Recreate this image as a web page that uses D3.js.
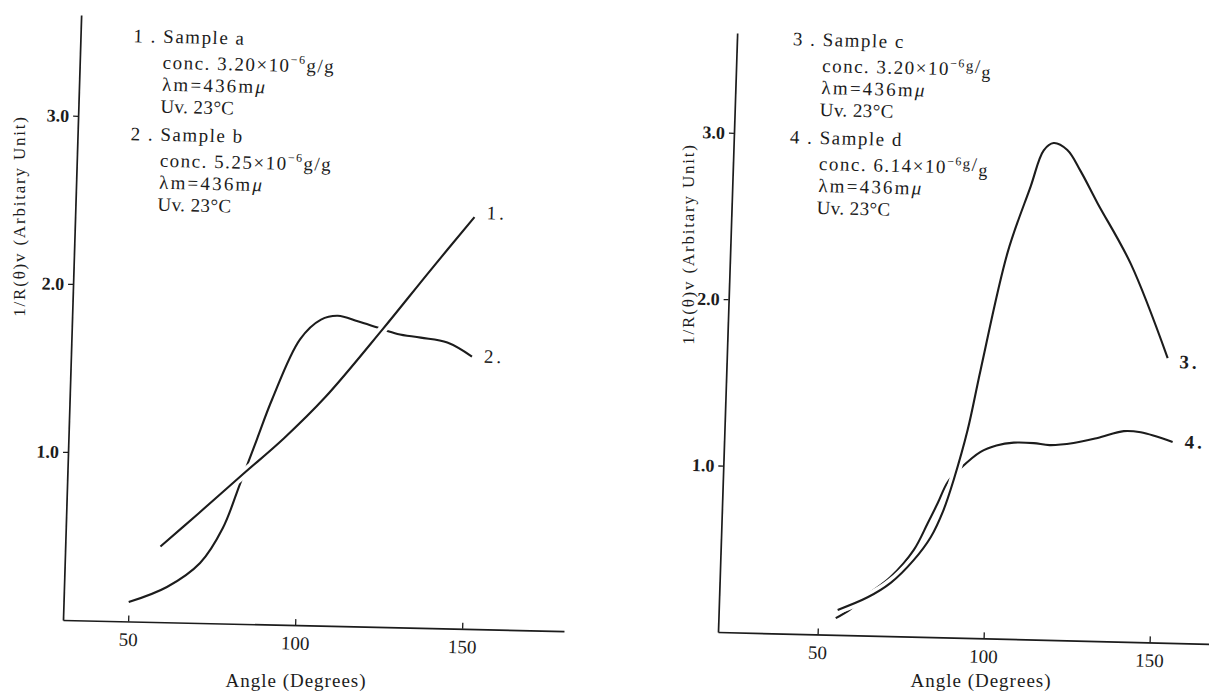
<!DOCTYPE html>
<html>
<head>
<meta charset="utf-8">
<script src="https://cdn.jsdelivr.net/npm/d3@7"></script>
<style>
  body { margin: 0; background: #fff; }
  text { font-family: "Liberation Serif", "DejaVu Serif", serif; fill: #1c1c1c; }
</style>
</head>
<body>
<svg id="chart"></svg>
<script>
// tick values shared by both panels
const angleTicks = [50, 100, 150];
const valueTicks = [1.0, 2.0, 3.0];
const valueDomain = [0, 3.6];

// curves: [angle in degrees, 1/R(theta)v]
const sampleA = [[59, 0.45], [70, 0.65], [83, 0.89], [95, 1.11], [107, 1.36], [123.5, 1.77], [137, 2.12], [150, 2.45]];
const sampleB = [[50, 0.115], [61.3, 0.21], [71, 0.357], [77.5, 0.568], [82.2, 0.83], [86.9, 1.10], [91.1, 1.34],
  [98.9, 1.70], [105, 1.82], [110, 1.845], [116, 1.815], [122, 1.78], [128, 1.745], [135, 1.726], [143, 1.70], [150.5, 1.62]];
const sampleC = [[55.8, 0.15], [64.7, 0.23], [71.5, 0.32], [78.2, 0.46], [83.1, 0.60], [86.7, 0.765], [89.5, 0.95],
  [93.2, 1.25], [96.5, 1.61], [103.5, 2.32], [109.8, 2.72], [113.4, 2.94], [116.3, 2.985], [120.5, 2.945],
  [124.7, 2.82], [130.1, 2.63], [140.7, 2.27], [152.7, 1.71]];
const sampleD = [[55.3, 0.10], [59.7, 0.157], [64.1, 0.237], [71.4, 0.355], [78.1, 0.52], [82.1, 0.685], [84.9, 0.806],
  [87.7, 0.934], [91.5, 1.02], [97.3, 1.12], [102, 1.16], [107.2, 1.18], [113.2, 1.18], [118, 1.17], [125.2, 1.186],
  [132.4, 1.22], [140.2, 1.265], [145.3, 1.26], [155, 1.207]];

// legend text for each panel
const legendLeft = [
  { no: '1', name: 'Sample a', conc: '3.20' },
  { no: '2', name: 'Sample b', conc: '5.25' }
];
const legendRight = [
  { no: '3', name: 'Sample c', conc: '3.20' },
  { no: '4', name: 'Sample d', conc: '6.14' }
];

const width = 1209;
const height = 691;

const svg = d3.select('#chart')
  .attr('width', width)
  .attr('height', height);

svg.append('rect')
  .attr('width', width)
  .attr('height', height)
  .attr('fill', '#fff');

function drawPanel(cfg) {
  // the scanned figure is slightly skewed, so the panel gets a small shear
  const g = svg.append('g')
    .attr('transform', `matrix(1,${cfg.slopeX},${-cfg.slopeY},1,${cfg.ox},${cfg.oy})`);

  const x = d3.scaleLinear().domain(cfg.xDomain).range([0, cfg.xLen]);
  const y = d3.scaleLinear().domain(valueDomain).range([0, -cfg.yLen]);

  const xAxis = g.append('g')
    .call(d3.axisBottom(x).tickValues(angleTicks).tickSizeInner(-6).tickSizeOuter(0).tickPadding(11));

  const yAxis = g.append('g')
    .call(d3.axisLeft(y).tickValues(valueTicks).tickSizeInner(5).tickSizeOuter(0).tickPadding(4)
      .tickFormat(d3.format('.1f')));

  [xAxis, yAxis].forEach(a => {
    a.attr('font-family', null).attr('font-size', null);
    a.select('.domain').attr('stroke', '#1c1c1c').attr('stroke-width', 1.7);
    a.selectAll('.tick line').attr('stroke', '#1c1c1c').attr('stroke-width', 1.3);
    a.selectAll('.tick text').attr('font-size', 19).attr('fill', '#1c1c1c');
  });
  yAxis.selectAll('.tick text').attr('font-size', 18).attr('font-weight', 'bold');

  const line = d3.line()
    .x(d => x(d[0]))
    .y(d => y(d[1]))
    .curve(d3.curveCatmullRom.alpha(0.5));

  // the curve drawn below first, then the one on top with a white halo
  g.append('path')
    .datum(cfg.under)
    .attr('d', line)
    .attr('fill', 'none')
    .attr('stroke', '#1c1c1c')
    .attr('stroke-width', 2.1);

  g.append('path')
    .datum(cfg.over)
    .attr('d', line)
    .attr('fill', 'none')
    .attr('stroke', '#fff')
    .attr('stroke-width', 9);

  g.append('path')
    .datum(cfg.over)
    .attr('d', line)
    .attr('fill', 'none')
    .attr('stroke', '#1c1c1c')
    .attr('stroke-width', 2.1);

  // end labels next to the last point of each curve
  cfg.endLabels.forEach(l => {
    const last = l.data[l.data.length - 1];
    g.append('text')
      .attr('x', x(last[0]) + 12)
      .attr('y', y(last[1]) + l.dy)
      .attr('font-size', 19)
      .attr('font-weight', l.bold ? 'bold' : 'normal')
      .attr('letter-spacing', 3)
      .text(l.text);
  });

  // legend block
  const leg = g.append('g').attr('font-size', 19).attr('letter-spacing', 1.5);
  cfg.legend.forEach((item, i) => {
    const top = cfg.legendY + i * 98;
    const ind = cfg.legendX;
    leg.append('text')
      .attr('x', ind)
      .attr('y', top)
      .text(`${item.no} .  ${item.name}`);

    const conc = leg.append('text')
      .attr('x', ind + 30)
      .attr('y', top + 26);
    conc.append('tspan').text(`conc.  ${item.conc}×10`);
    conc.append('tspan').attr('font-size', 12).attr('dy', -8).text('−6');
    if (cfg.fracUnit) {
      conc.append('tspan').attr('font-size', 15).attr('dy', 3).text('g');
      conc.append('tspan').attr('font-size', 19).attr('dy', 2).text('/');
      conc.append('tspan').attr('font-size', 18).attr('dy', 5).text('g');
    } else {
      conc.append('tspan').attr('dy', 8).text('g/g');
    }

    const lam = leg.append('text')
      .attr('x', ind + 30)
      .attr('y', top + 48)
      .attr('letter-spacing', 2.2);
    lam.append('tspan').text('λm=436m');
    lam.append('tspan').attr('font-style', 'italic').text('μ');

    leg.append('text')
      .attr('x', ind + 29)
      .attr('y', top + 70)
      .attr('letter-spacing', 0.4)
      .text('Uv. 23°C');
  });
}

drawPanel({
  ox: 63, oy: 620, slopeX: 0.022, slopeY: 0.03,
  xDomain: [30.5, 180.5], xLen: 501, yLen: 605,
  under: sampleB, over: sampleA,
  endLabels: [{ data: sampleA, text: '1.', dy: 2 }, { data: sampleB, text: '2.', dy: 6 }],
  legend: legendLeft, legendX: 53, legendY: -579, fracUnit: false
});

drawPanel({
  ox: 718, oy: 632, slopeX: 0.024, slopeY: 0.032,
  xDomain: [20, 170], xLen: 498, yLen: 599,
  under: sampleD, over: sampleC,
  endLabels: [{ data: sampleC, text: '3.', dy: 10, bold: true }, { data: sampleD, text: '4.', dy: 6, bold: true }],
  legend: legendRight, legendX: 56, legendY: -588, fracUnit: true
});

// axis titles, kept upright
const titles = [
  { text: 'Angle (Degrees)', x: 296, y: 687, rot: 0 },
  { text: 'Angle (Degrees)', x: 981, y: 687, rot: 0 },
  { text: '1/R(θ)v (Arbitary Unit)', x: 25, y: 216, rot: -90 },
  { text: '1/R(θ)v (Arbitary Unit)', x: 694, y: 244, rot: -90 }
];

svg.selectAll('text.title')
  .data(titles)
  .enter()
  .append('text')
  .attr('class', 'title')
  .attr('transform', d => `translate(${d.x},${d.y}) rotate(${d.rot})`)
  .attr('text-anchor', 'middle')
  .attr('font-size', d => d.rot ? 17 : 19)
  .attr('letter-spacing', d => d.rot ? 1.8 : 1)
  .attr('fill', d => d.rot ? '#3a3a3a' : '#1c1c1c')
  .text(d => d.text);
</script>
</body>
</html>
